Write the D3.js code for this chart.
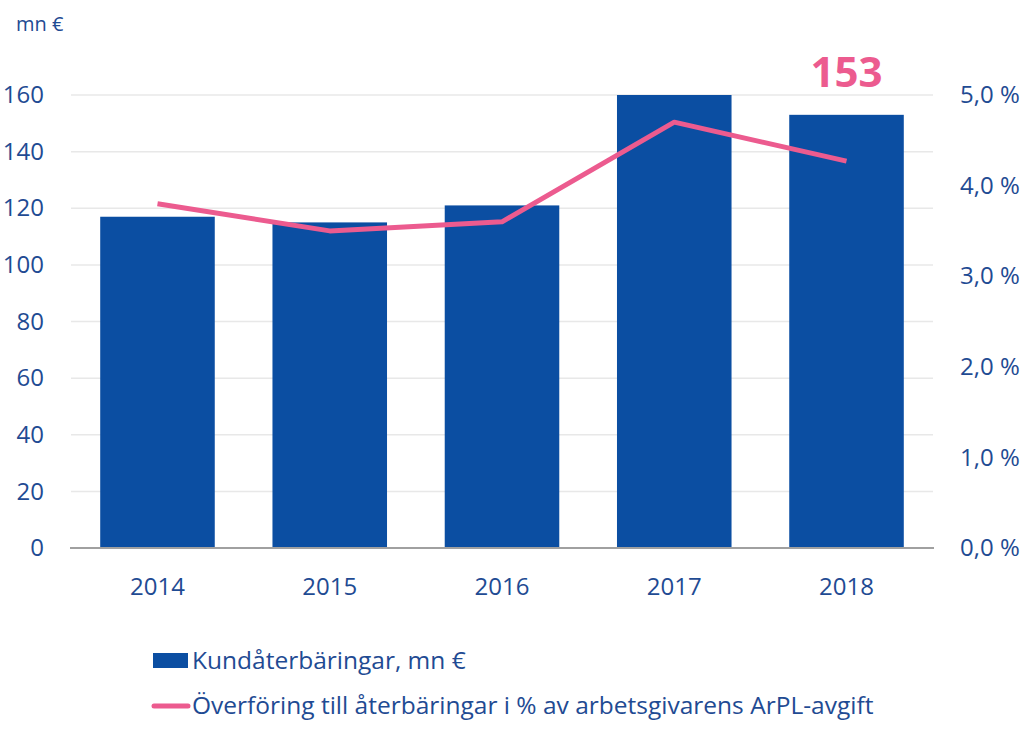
<!DOCTYPE html>
<html><head><meta charset="utf-8">
<script src="https://cdn.jsdelivr.net/npm/d3@7"></script>
<style>body{margin:0;background:#fff}svg{display:block}text{font-family:"Open Sans",sans-serif}</style>
</head><body>
<script>
const years = ["2014","2015","2016","2017","2018"];
const refunds = [117, 115, 121, 160, 153];
const transferPct = [3.8, 3.5, 3.6, 4.7, 4.27];
const leftTicks = [0,20,40,60,80,100,120,140,160];
const rightTicks = [0,1,2,3,4,5];
const legendLabels = ["Kundåterbäringar, mn €","Överföring till återbäringar i % av arbetsgivarens ArPL-avgift"];
const unitLabel = "mn €";
const highlightLabel = "153";

const W=1024,H=737;
const barColor="#0b4ea2", lineColor="#ec5b8f", textColor="#1f4b93";
const svg=d3.select("body").append("svg").attr("width",W).attr("height",H);
const x=d3.scaleBand().domain(years).range([68,936]).paddingInner(0.335).paddingOuter(0.187);
const y=d3.scaleLinear().domain([0,160]).range([548,95]);
const y2=d3.scaleLinear().domain([0,5]).range([548,95]);

svg.append("g").selectAll("line").data(leftTicks.filter(d=>d>0)).join("line")
  .attr("x1",71).attr("x2",933).attr("y1",d=>y(d)).attr("y2",d=>y(d))
  .attr("stroke","#e8e8e8").attr("stroke-width",1.5);

svg.append("g").selectAll("rect").data(refunds).join("rect")
  .attr("x",(d,i)=>x(years[i])).attr("width",x.bandwidth())
  .attr("y",d=>y(d)).attr("height",d=>y(0)-y(d)).attr("fill",barColor);

svg.append("line").attr("x1",70).attr("x2",934).attr("y1",y(0)).attr("y2",y(0))
  .attr("stroke","#a0a0a0").attr("stroke-width",2);

const line=d3.line().x((d,i)=>x(years[i])+x.bandwidth()/2).y(d=>y2(d));
svg.append("path").datum(transferPct).attr("d",line).attr("fill","none")
  .attr("stroke",lineColor).attr("stroke-width",5).attr("stroke-linejoin","round");

const fs="24px";
// left axis
const gl=svg.append("g").attr("transform","translate(44,0)")
  .call(d3.axisLeft(y).tickValues(leftTicks).tickSize(0).tickPadding(0));
gl.select(".domain").remove();
gl.selectAll("text").attr("fill",textColor).style("font-size",fs).style("font-family","'Open Sans',sans-serif");

// right axis
const fmt=d=>d3.format(".1f")(d).replace(".",",")+" %";
const gr=svg.append("g").attr("transform","translate(960,0)")
  .call(d3.axisRight(y2).tickValues(rightTicks).tickFormat(fmt).tickSize(0).tickPadding(0));
gr.select(".domain").remove();
gr.selectAll("text").attr("fill",textColor).style("font-size",fs).style("font-family","'Open Sans',sans-serif");

// bottom axis
const gb=svg.append("g").attr("transform","translate(0,585)")
  .call(d3.axisBottom(x).tickSize(0).tickPadding(0));
gb.select(".domain").remove();
gb.selectAll("text").attr("fill",textColor).attr("dy","0").attr("y",10).style("font-size",fs).style("font-family","'Open Sans',sans-serif");

svg.append("text").attr("x",16).attr("y",31).attr("fill",textColor).style("font-size","20px").text(unitLabel);

svg.append("text").attr("x",x("2018")+x.bandwidth()/2).attr("y",87).attr("text-anchor","middle")
  .attr("fill",lineColor).style("font-size","42px").style("font-weight","bold").text(highlightLabel);

// legend
svg.append("rect").attr("x",153).attr("y",653).attr("width",35).attr("height",15).attr("fill",barColor);
svg.append("text").attr("x",192).attr("y",669).attr("fill",textColor).style("font-size","24.5px").text(legendLabels[0]);
svg.append("line").attr("x1",154).attr("x2",188).attr("y1",706).attr("y2",706)
  .attr("stroke",lineColor).attr("stroke-width",5).attr("stroke-linecap","round");
svg.append("text").attr("x",192).attr("y",714).attr("fill",textColor).style("font-size","24.5px").text(legendLabels[1]);
</script>
</body></html>
